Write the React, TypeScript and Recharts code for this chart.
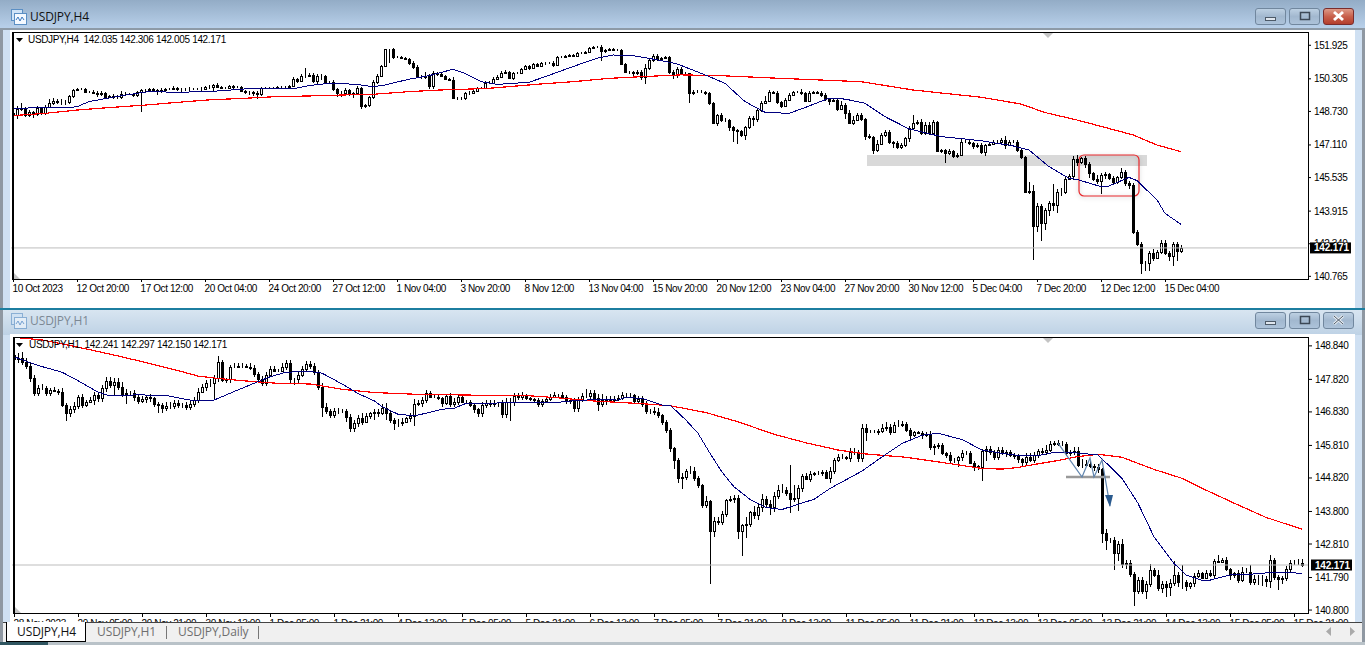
import React from "react";
import { ComposedChart, Bar, Line, XAxis, YAxis, ReferenceLine, ReferenceArea } from "recharts";

const CHART_FONT = "'Liberation Sans', Arial, sans-serif";
const TITLE_FONT = "'Open Sans', 'Noto Sans', sans-serif";

// ---------- H4 ----------
const h4FirstOpen = 148.7;
const h4Closes = [
  148.59,148.87,148.95,148.59,148.75,148.64,148.91,148.70,148.96,149.19,149.27,149.24,149.20,149.20,149.51,149.80,149.83,149.83,149.72,149.72,
  149.64,149.59,149.64,149.48,149.51,149.48,149.48,149.59,149.61,149.59,149.56,149.72,149.80,149.80,149.83,149.80,149.75,149.80,149.83,149.83,
  149.91,149.85,149.83,149.85,149.86,149.85,149.83,149.86,149.93,149.96,150.02,149.96,149.91,149.88,149.99,149.96,149.96,149.77,149.72,149.72,
  149.67,149.61,149.88,149.88,149.88,149.88,149.93,149.93,149.96,150.01,150.32,150.25,150.48,150.48,150.52,150.23,150.49,150.48,150.20,150.20,
  149.85,149.64,149.64,149.80,149.60,149.64,149.88,149.04,149.07,149.45,150.20,150.48,150.97,151.76,151.76,151.41,151.41,151.33,151.30,151.12,
  150.89,150.41,150.44,150.48,150.01,150.60,150.57,150.48,150.32,150.28,149.40,149.40,149.43,149.64,149.67,149.77,149.88,149.88,150.12,150.12,
  150.32,150.44,150.64,150.65,150.36,150.60,150.64,150.80,150.96,150.88,151.04,150.98,151.09,151.12,151.12,151.01,151.38,151.38,151.44,151.49,
  151.46,151.57,151.60,151.65,151.83,151.86,151.86,151.70,151.73,151.76,151.73,151.73,151.06,150.65,150.68,150.60,150.68,150.44,150.85,151.25,
  151.44,151.28,151.36,151.41,150.68,150.52,150.80,150.64,150.61,149.64,149.72,149.72,149.72,149.64,149.16,148.22,148.59,148.35,148.35,148.03,
  147.87,147.84,147.63,148.03,148.43,148.38,148.83,149.16,149.29,149.72,149.67,149.24,149.04,149.32,149.56,149.69,149.69,149.64,149.29,149.67,
  149.69,149.64,149.56,149.35,149.29,149.32,148.87,149.08,148.71,148.22,148.35,148.59,148.40,147.58,147.51,146.90,147.19,147.63,147.79,147.30,
  147.22,147.03,147.14,147.46,147.95,148.22,148.27,147.74,148.11,147.74,148.27,146.87,146.90,146.74,146.87,146.63,146.66,147.30,147.30,147.22,
  147.09,147.14,146.82,147.14,147.19,147.30,147.30,147.38,147.14,147.27,147.30,146.90,146.58,144.89,144.92,143.25,144.21,143.36,144.00,144.33,
  144.25,144.86,144.86,145.50,145.66,146.47,146.34,146.50,146.22,145.77,145.48,145.42,145.69,145.72,145.53,145.37,145.61,145.85,145.29,145.21,
  142.95,142.34,141.46,141.46,141.91,141.67,141.99,142.42,141.94,141.80,142.36,142.04,142.171,
];
const h4UpperWicks = [
  .05,.15,.2,.05,.1,.05,.1,.05,.1,.15,.15,.1,.1,.1,.05,.05,.05,.05,.05,.05,
  .1,.1,.1,.05,.05,.1,.1,.15,.1,.05,.05,.05,.05,.05,.05,.05,.05,.1,.05,.05,
  .1,.05,.05,.05,.1,.05,.05,.1,.05,.1,.05,.1,.05,.05,.05,.05,.05,.05,.05,.05,
  .05,.1,.05,.05,.05,.05,.05,.05,.05,.05,.1,.05,.1,.37,.1,.1,.1,.1,.05,.05,
  .1,.05,.1,.1,.05,.05,.1,.05,.05,.05,.1,.1,.05,.02,.02,.05,.05,.05,.05,.05,
  .1,.1,.1,.2,.1,.1,.05,.1,.05,.05,.15,.05,.05,.05,.1,.1,.05,.05,.1,.1,
  .1,.1,.1,.1,.05,.05,.05,.05,.05,.05,.05,.05,.05,.05,.05,.1,.05,.05,.05,.05,
  .05,.05,.05,.05,.05,.05,.05,.1,.05,.05,.05,.05,.05,.05,.05,.05,.1,.1,.2,.05,
  .1,.1,.05,.05,.05,.1,.1,.1,.05,.02,.1,.1,.1,.05,.05,.05,.05,.1,.1,.05,
  .05,.05,.05,.05,.1,.1,.05,.1,.2,.1,.05,.1,.05,.1,.1,.05,.05,.15,.05,.1,
  .05,.05,.1,.1,.05,.1,.05,.2,.1,.1,.2,.1,.1,.05,.1,.05,.2,.1,.1,.1,
  .05,.1,.1,.05,.1,.37,.1,.15,.15,.15,.1,.05,.05,.05,.1,.05,.1,.15,.1,.1,
  .05,.1,.1,.05,.05,.1,.1,.1,.2,.1,.1,.1,.05,.05,.45,.3,.15,.1,.1,.1,
  .95,.15,.2,.1,.1,.15,.2,.05,.1,.1,.05,.2,.1,.1,.05,.1,.05,.2,.1,.1,
  .1,.1,.1,.1,.1,.2,.1,.15,.15,.1,.1,.1,.135,
];
const h4LowerWicks = [
  .35,.2,.1,.1,.1,.2,.1,.1,.1,.05,.1,.1,.15,.15,.1,.1,.05,.05,.05,.05,
  .05,.15,.1,.05,.05,.1,.1,.1,.05,.05,.1,.1,1.0,.1,.05,.1,.2,.1,.05,.05,
  .05,.1,.2,.1,.1,.05,.05,.15,.05,.1,.2,.05,.05,.05,.05,.1,.05,.05,.1,.15,
  .15,.25,.1,.05,.05,.05,.05,.05,.05,.05,.05,.1,.05,.1,.05,.1,.15,.2,.1,.1,
  .1,.2,.2,.1,.1,.2,.1,.18,.1,.1,.1,.1,.05,.05,.65,.1,.05,.05,.05,.1,
  .1,.05,.1,.1,.15,.15,.1,.05,.05,.05,.05,.1,.1,.1,.1,.05,.05,.05,.05,.05,
  .05,.05,.05,.05,.05,.1,.05,.05,.05,.1,.05,.05,.05,.1,.05,.1,.05,.05,.05,.05,
  .05,.05,.05,.05,.05,.05,.05,.5,.1,.05,.05,.05,.05,.05,.1,.2,.1,.15,.37,.1,
  .1,.1,.05,.05,.1,.2,.15,.05,.1,.45,.1,.05,.05,.1,.1,.05,.15,.1,.1,.2,
  .58,.66,.1,.25,.1,.3,.15,.1,.05,.05,.05,.1,.1,.05,.05,.05,.05,.1,.05,.05,
  .05,.05,.1,.1,.2,.05,.1,.05,.3,.05,.1,.05,.1,.2,.1,.2,.1,.05,.1,.1,
  .2,.1,.1,.1,.15,.1,.1,.1,.1,.1,.05,.05,.1,.45,.1,.1,.1,.05,.05,.1,
  .15,.1,.1,.2,.05,.05,.1,.05,.2,.05,.05,.1,.1,.05,.1,1.66,.3,.85,.3,.3,
  .3,.4,.2,.1,.05,.2,.2,.1,.2,.2,.1,.15,.65,.2,.1,.1,.1,.1,.15,.2,
  .1,.1,.55,.4,.4,.15,.05,.1,.1,.25,.5,.5,.1,
];
const h4BlueBars = [0,8,12,16,19,25,31,34,41,49,58,63,70,74,79,82,87,90,93,99,104,110,113,117,121,129,133,140,146,150,155,159,166,173,178,183,188,194,198,204,208,213,218,224,232,242,250,254,259,264,266,272,274,279,281,286,288,292];
const h4BlueValues = [148.91,148.95,148.93,148.99,149.24,149.45,149.64,149.72,149.69,149.72,149.85,149.85,149.85,150.01,150.12,150.12,150.04,149.96,150.04,150.32,150.49,150.80,150.6,150.2,150.07,150.17,150.44,150.93,151.33,151.49,151.46,151.33,151.06,150.53,150.12,149.24,148.72,148.67,148.95,149.4,149.36,149.16,148.51,147.92,147.55,147.35,147.1,146.9,146.1,145.53,145.48,145.13,145.16,145.58,145.42,144.49,143.84,143.31];
const h4RedBars = [0,8,16,24,33,41,49,58,66,74,83,90,99,107,115,119,124,132,140,149,157,167,177,192,212,225,242,252,258,266,280,286,292];
const h4RedValues = [148.56,148.67,148.83,148.95,149.07,149.2,149.32,149.4,149.48,149.51,149.56,149.59,149.72,149.8,149.85,149.88,149.96,150.09,150.2,150.36,150.44,150.53,150.49,150.36,150.2,149.8,149.45,149.12,148.71,148.35,147.63,147.14,146.82];
const h4PriceTicks = [151.925,150.305,148.73,147.11,145.535,143.915,142.34,140.765,142.171];
const h4TimeLabels = ["10 Oct 2023","12 Oct 20:00","17 Oct 12:00","20 Oct 04:00","24 Oct 20:00","27 Oct 12:00","1 Nov 04:00","3 Nov 20:00","8 Nov 12:00","13 Nov 04:00","15 Nov 20:00","20 Nov 12:00","23 Nov 04:00","27 Nov 20:00","30 Nov 12:00","5 Dec 04:00","7 Dec 20:00","12 Dec 12:00","15 Dec 04:00"];

// ---------- H1 ----------
const h1FirstOpen = 148.55;
const h1Closes = [
  148.43,148.46,148.36,148.23,147.85,147.42,147.55,147.57,147.42,147.50,147.48,147.45,147.04,146.79,146.91,147.02,147.29,147.04,147.14,147.19,
  147.35,147.24,147.55,147.78,147.65,147.75,147.60,147.38,147.42,147.40,147.27,147.16,147.21,147.29,147.24,147.07,147.04,146.96,147.02,147.01,
  147.09,147.04,147.04,146.99,147.07,147.19,147.45,147.58,147.70,147.72,147.85,148.36,147.80,147.82,148.21,148.21,148.23,148.23,148.21,148.16,
  147.98,147.82,147.72,147.95,148.13,148.09,148.09,148.21,148.31,147.82,147.82,147.95,148.13,148.29,148.23,148.06,147.60,146.99,146.87,146.74,
  146.86,146.86,146.87,146.67,146.33,146.48,146.65,146.53,146.70,146.79,146.82,146.79,146.96,146.79,146.58,146.48,146.50,146.53,146.63,146.70,
  147.07,147.09,147.19,147.41,147.29,147.29,147.24,147.09,147.32,147.07,147.14,147.27,147.14,147.14,147.04,146.91,146.79,147.04,147.09,147.07,
  147.09,147.09,146.76,147.14,147.12,147.31,147.29,147.34,147.24,147.21,147.19,147.07,147.17,147.22,147.29,147.34,147.34,147.29,147.17,147.19,
  146.94,147.19,147.31,147.32,147.41,147.24,147.07,147.19,147.21,147.19,147.21,147.24,147.34,147.36,147.34,147.17,147.21,147.07,146.87,146.87,
  146.84,146.73,146.53,146.28,145.72,145.38,144.83,144.86,145.04,145.04,144.83,144.60,144.01,144.11,143.21,143.52,143.49,143.72,144.14,144.17,
  144.20,143.21,143.38,143.43,143.77,143.69,143.94,144.18,144.04,143.94,144.28,144.45,144.45,144.37,144.18,144.20,144.50,144.88,144.80,144.94,
  144.96,144.98,145.00,144.83,145.04,145.37,145.45,145.45,145.42,145.62,145.62,145.42,146.35,146.23,146.23,146.23,146.25,146.35,146.36,146.23,
  146.43,146.43,146.46,146.28,146.12,146.21,146.20,146.12,146.16,145.77,145.79,145.82,145.57,145.52,145.37,145.37,145.45,145.57,145.59,145.28,
  145.17,145.16,145.64,145.70,145.62,145.47,145.67,145.57,145.62,145.52,145.49,145.39,145.30,145.47,145.37,145.52,145.64,145.62,145.67,145.85,
  145.89,145.85,145.85,145.59,145.62,145.65,145.21,145.21,145.26,145.18,145.14,145.08,143.13,142.93,142.93,142.55,142.81,142.19,142.22,141.90,
  141.39,141.71,141.39,141.59,142.02,141.87,141.48,141.58,141.51,141.63,141.87,141.66,141.66,141.53,141.61,141.84,141.92,141.78,141.92,141.87,
  142.29,142.27,142.32,142.04,141.87,141.92,141.71,141.97,141.97,141.66,141.76,141.76,141.74,141.69,142.32,141.81,141.74,141.79,142.04,142.22,
  142.22,142.24,142.171,
];
const h1UpperWicks = [
  .05,.15,.2,.1,.1,.1,.1,.1,.05,.05,.1,.05,.1,.05,.1,.1,.05,.1,.05,.1,
  .1,.1,.1,.1,.1,.1,.1,.15,.1,.05,.1,.1,.1,.05,.1,.05,.05,.05,.1,.1,
  .1,.1,.05,.1,.1,.1,.1,.1,.1,.1,.1,.17,.05,.05,.05,.1,.1,.1,.05,.1,
  .1,.05,.1,.1,.1,.1,.05,.1,.1,.1,.05,.1,.1,.1,.1,.1,.05,.1,.1,.05,
  .1,.1,.05,.05,.1,.1,.1,.15,.1,.05,.1,.1,.1,.15,.1,.05,.1,.1,.05,.1,
  .15,.1,.1,.1,.05,.05,.1,.05,.05,.1,.1,.1,.05,.05,.05,.05,.05,.1,.1,.1,
  .1,.05,.1,.1,.1,.1,.1,.1,.05,.05,.05,.05,.05,.1,.1,.1,.05,.1,.05,.05,
  .05,.1,.1,.2,.1,.1,.15,.2,.1,.1,.1,.1,.1,.05,.05,.05,.1,.1,.1,.05,
  .1,.1,.05,.05,.05,.05,.05,.1,.05,.15,.1,.05,.05,.16,.05,.1,.1,.1,.05,.1,
  .1,.1,.05,.2,.05,.2,.1,.15,.1,.1,.1,.15,.2,.1,.84,.4,.1,.05,.1,.1,
  .05,.05,.05,.05,.1,.05,.1,.1,.05,.1,.1,.05,.1,.1,.05,.05,.05,.1,.15,.1,
  .1,.15,.1,.05,.05,.05,.05,.05,.05,.1,.05,.05,.05,.05,.1,.05,.05,.1,.05,.05,
  .05,.05,.05,.1,.1,.05,.1,.1,.05,.05,.05,.05,.05,.1,.1,.1,.05,.1,.15,.1,
  .05,.1,.1,.05,.05,.1,.1,.2,.1,.1,.05,.1,.05,.15,.05,.1,.1,.15,.1,.1,
  .05,.1,.1,.1,.17,.05,.15,.1,.1,.1,.42,.1,.5,.05,.05,.1,.1,.05,.1,.1,
  .05,.2,.05,.1,.05,.05,.1,.15,.1,.2,.1,.1,.1,.1,.15,.05,.05,.05,.1,.1,
  .1,.1,.126,
];
const h1LowerWicks = [
  .15,.1,.1,.1,.1,.1,.1,.05,.1,.1,.05,.1,.05,.25,.1,.1,.1,.1,.05,.05,
  .15,.1,.1,.1,.1,.3,.1,.1,.3,.1,.1,.1,.05,.1,.1,.1,.24,.15,.1,.1,
  .1,.1,.1,.1,.1,.1,.1,.05,.1,.1,.53,.1,.05,.1,.1,.05,.05,.05,.05,.05,
  .1,.1,.1,.1,.05,.05,.05,.05,.1,.1,.17,.1,.05,.1,.1,.1,.1,.3,.1,.1,
  .1,.1,.05,.15,.1,.1,.1,.1,.05,.1,.2,.1,.05,.2,.1,.2,.1,.1,.05,.1,
  .3,.05,.1,.1,.05,.05,.05,.1,.05,.1,.1,.1,.05,.05,.05,.1,.1,.1,.1,.1,
  .1,.1,.1,.1,.58,.1,.1,.1,.05,.05,.05,.1,.1,.05,.05,.05,.05,.05,.1,.1,
  .1,.1,.05,.05,.1,.1,.2,.1,.15,.1,.1,.05,.05,.05,.05,.1,.1,.1,.1,.1,
  .1,.1,.1,.1,.1,.3,.15,.35,.1,.1,.1,.1,.1,.1,1.63,.2,.1,.1,.1,.05,
  .1,.25,.75,.38,.1,.13,.15,.15,.1,.25,.15,.1,.1,.1,.43,.1,.39,.1,.05,.1,
  .05,.05,.1,.05,.15,.1,.05,.05,.05,.1,.1,.1,.1,.27,.05,.05,.1,.05,.1,.1,
  .05,.05,.05,.05,.1,.05,.05,.1,.05,.1,.25,.1,.05,.1,.1,.1,.22,.1,.05,.05,
  .14,.1,.43,.3,.1,.1,.1,.05,.1,.05,.1,.1,.16,.1,.05,.1,.1,.1,.1,.05,
  .05,.05,.05,.1,.1,.1,.05,.1,.05,.05,.1,.1,.3,.3,.1,.53,.27,.1,.15,.1,
  .48,.1,.1,.25,.1,.05,.1,.15,.3,.27,.1,.15,.23,.14,.1,.1,.05,.05,.05,.05,
  .1,.05,.05,.05,.15,.1,.1,.05,.05,.1,.1,.2,.2,.2,.23,.1,.33,.15,.1,.1,
  .05,.05,.05,
];
const h1BlueBars = [0,4,7,12,16,21,24,31,38,44,50,56,61,64,68,74,77,82,86,90,92,96,100,103,107,110,113,118,123,129,135,140,146,151,153,157,162,164,168,171,174,177,180,184,188,192,196,200,204,212,217,222,227,231,237,242,247,252,256,260,264,271,277,281,285,290,293,297,299,304,309,314,318,322];
const h1BlueValues = [148.51,148.33,148.21,148.04,147.78,147.43,147.32,147.35,147.33,147.19,147.19,147.5,147.75,147.9,148.04,148.06,148.01,147.68,147.39,147.17,146.99,146.76,146.71,146.79,146.91,146.94,147.09,147.09,147.11,147.11,147.11,147.17,147.21,147.19,147.27,147.24,147.04,147.04,146.58,146.18,145.57,145.0,144.55,144.17,143.92,143.86,144.02,144.17,144.5,145.03,145.46,145.87,146.12,146.18,145.99,145.67,145.57,145.49,145.5,145.6,145.6,145.52,144.81,144.05,143.03,142.22,141.87,141.7,141.71,141.87,141.89,141.94,141.94,141.92];
const h1RedBars = [0,7,16,24,32,41,46,51,57,66,74,78,82,86,90,100,115,129,136,144,157,164,173,181,190,198,206,213,223,231,242,247,251,255,260,266,271,277,285,292,298,306,313,322];
const h1RedValues = [149.1,149.02,148.8,148.59,148.36,148.09,147.92,147.85,147.78,147.7,147.68,147.6,147.52,147.47,147.42,147.37,147.34,147.32,147.26,147.17,147.08,147.02,146.81,146.53,146.15,145.89,145.67,145.55,145.45,145.31,145.11,145.09,145.14,145.23,145.33,145.47,145.54,145.45,145.08,144.81,144.45,144.0,143.62,143.26];
const h1PriceTicks = [148.84,147.82,146.83,145.81,144.82,143.8,142.81,141.79,140.8,142.171];
const h1TimeLabels = ["28 Nov 2023","29 Nov 05:00","29 Nov 21:00","30 Nov 13:00","1 Dec 05:00","1 Dec 21:00","4 Dec 13:00","5 Dec 05:00","5 Dec 21:00","6 Dec 13:00","7 Dec 05:00","7 Dec 21:00","8 Dec 13:00","11 Dec 05:00","11 Dec 21:00","12 Dec 13:00","13 Dec 05:00","13 Dec 21:00","14 Dec 13:00","15 Dec 05:00","15 Dec 21:00"];
const h1SketchBars = [261,267,269,270,272,274];
const h1SketchValues = [145.88,144.85,145.43,144.85,145.37,143.97];

const LAST_PRICE = 142.171;
const SLOTS = 324;

function buildRows(firstOpen: number, closes: number[], ups: number[], downs: number[], blueBars: number[], blueValues: number[], redBars: number[], redValues: number[], sketchBars: number[] = [], sketchValues: number[] = []) {
  const rows: any[] = [];
  for (let i = 0; i < SLOTS; i++) {
    const row: any = { i };
    if (i < closes.length) {
      const o = i === 0 ? firstOpen : closes[i - 1];
      const c = closes[i];
      const h = Math.max(o, c) + (ups[i] ?? 0.05);
      const l = Math.min(o, c) - (downs[i] ?? 0.05);
      Object.assign(row, { o, c, h, l, range: [l, h] });
    }
    const b = blueBars.indexOf(i);
    if (b >= 0) row.blue = blueValues[b];
    const r = redBars.indexOf(i);
    if (r >= 0) row.red = redValues[r];
    const s = sketchBars.indexOf(i);
    if (s >= 0) row.sketch = sketchValues[s];
    rows.push(row);
  }
  return rows;
}

const h4Rows = buildRows(h4FirstOpen, h4Closes, h4UpperWicks, h4LowerWicks, h4BlueBars, h4BlueValues, h4RedBars, h4RedValues);
const h1Rows = buildRows(h1FirstOpen, h1Closes, h1UpperWicks, h1LowerWicks, h1BlueBars, h1BlueValues, h1RedBars, h1RedValues, h1SketchBars, h1SketchValues);

const Candle = (props: any) => {
  const { x, y, width, height, payload } = props;
  if (!payload || payload.c == null) return <g />;
  const cx = Math.round(x + width / 2) + 0.5;
  const ppu = height / (payload.h - payload.l);
  const py = (p: number) => y + (payload.h - p) * ppu;
  const top = Math.round(py(Math.max(payload.o, payload.c))) + 0.5;
  const bottom = Math.round(py(Math.min(payload.o, payload.c))) + 0.5;
  const bull = payload.c >= payload.o;
  return (
    <g shapeRendering="crispEdges">
      <line x1={cx} x2={cx} y1={y} y2={y + height} stroke="#000" strokeWidth={1} />
      <rect x={cx - 1} y={top} width={2} height={Math.max(bottom - top, 0)} fill={bull ? "#fff" : "#000"} stroke="#000" strokeWidth={1} />
    </g>
  );
};

const makePriceTick = (nudge: number) => (props: any) => {
  const { x, y, payload } = props;
  const v = payload.value as number;
  if (v === LAST_PRICE) {
    return (
      <g>
        <rect x={x + 3} y={y - 5.5} width={41} height={11} fill="#000" />
        <text x={x + 7} y={y + 3.5} fontFamily={CHART_FONT} fontSize={10} fontWeight={700} letterSpacing={-0.2} fill="#fff">{v.toFixed(3)}</text>
      </g>
    );
  }
  return (
    <g>
      <line x1={x + 1} x2={x + 4} y1={y + nudge} y2={y + nudge} stroke="#000" />
      <text x={x + 7} y={y + nudge + 3.5} fontFamily={CHART_FONT} fontSize={10} letterSpacing={-0.4} fill="#000">{v.toFixed(3)}</text>
    </g>
  );
};

const makeTimeTick = (labels: string[], slotsPerLabel: number) => (props: any) => {
  const { x, y, payload } = props;
  const label = labels[Math.round(payload.value / slotsPerLabel)];
  const px = Math.round(x) + 0.5;
  return (
    <g>
      <line x1={px} x2={px} y1={y} y2={y + 3} stroke="#000" />
      <text x={px - 1} y={y + 13} fontFamily={CHART_FONT} fontSize={10} letterSpacing={-0.4} fill="#000">{label}</text>
    </g>
  );
};

const ArrowEnd = (props: any) => {
  const { cx, cy, index, payload } = props;
  if (payload.i !== h1SketchBars[h1SketchBars.length - 1] || cx == null) return <g key={index} />;
  return <polygon key={index} points={`${cx},${cy + 1} ${cx - 5},${cy - 11} ${cx + 3},${cy - 11}`} fill="#2a5a8e" />;
};

const RoundBox = (props: any) => (
  <rect x={props.x} y={props.y} width={props.width} height={props.height} rx={5} ry={5} fill="none" stroke="#e8262a" strokeWidth={1.2} style={{ filter: "drop-shadow(0 1px 2px rgba(0,0,0,.25))" }} />
);

const tickEvery16 = (labels: string[]) => labels.map((_, k) => k * 16);

const WinButton = ({ left, top, kind, red }: { left: number; top: number; kind: string; red?: boolean }) => (
  <div style={{ position: "absolute", left, top, width: 31, height: 17, boxSizing: "border-box", border: `1px solid ${red ? "#7a2c2c" : "#71879e"}`, borderRadius: 3, background: red ? "linear-gradient(#dd9a88,#c8604c 50%,#b33e2c)" : "linear-gradient(#bdd0e2,#a2b8cf 50%,#adc3da)" }}>
    <svg width={29} height={15} style={{ display: "block" }}>
      {kind === "min" && <rect x={9.5} y={8.5} width={10} height={3} fill="#dfe6ee" stroke="#4d5a68" />}
      {kind === "max" && <rect x={10.5} y={3.5} width={9} height={7} fill="none" stroke="#3c4856" strokeWidth={1.5} />}
      {kind === "x" && <path d="M10 3 L19 11 M19 3 L10 11" stroke={red ? "#fff" : "#e8edf2"} strokeWidth={3} />}
      {kind === "x" && !red && <path d="M10 3 L19 11 M19 3 L10 11" stroke="#4d5a68" strokeWidth={1} />}
    </svg>
  </div>
);

const ChartIcon = ({ left, top, dim }: { left: number; top: number; dim?: boolean }) => (
  <svg style={{ position: "absolute", left, top, opacity: dim ? 0.6 : 1 }} width={16} height={16}>
    <rect x={0.5} y={0.5} width={11} height={11} fill="#cfe3f7" stroke="#5b8fc4" />
    <rect x={3.5} y={4.5} width={12} height={11} fill="#f4f9ff" stroke="#5b8fc4" />
    <path d="M5 11 L7 8 L9 12 L11 8 L13 11" fill="none" stroke="#3d7ac0" />
  </svg>
);

const Label = ({ left, top, text }: { left: number; top: number; text: string }) => (
  <div style={{ position: "absolute", left, top, fontFamily: CHART_FONT, fontSize: 10, letterSpacing: -0.34, lineHeight: "12px", color: "#000", whiteSpace: "pre" }}>{text}</div>
);

const Frame = ({ top, height, left }: { top: number; height: number; left: number }) => (
  <div style={{ position: "absolute", left, top, width: 1308 - left + 1, height, boxSizing: "border-box", borderTop: "1.5px solid #000", borderRight: "1px solid #000", borderBottom: "1px solid #000", borderLeft: "2px solid #000", pointerEvents: "none" }} />
);

const ChartMarks = ({ left, top, h }: { left: number; top: number; h: number }) => (
  <svg style={{ position: "absolute", left: 0, top: 0, pointerEvents: "none" }} width={1365} height={645}>
    <polygon points={`1043,${top + 1} 1053,${top + 1} 1048,${top + 6}`} fill="#c4c4c4" />
    <polygon points={`${left + 2},${top + h - 7} ${left + 2},${top + h - 1} ${left + 8},${top + h - 1}`} fill="#c4c4c4" />
    <polygon points={`16,${top + 6} 23,${top + 6} 19.5,${top + 10}`} fill="#000" />
  </svg>
);

export default function App() {
  return (
    <div style={{ position: "absolute", left: 0, top: 0, width: 1365, height: 645, overflow: "hidden", background: "#cfe0f2" }}>
      {/* outer window strips */}
      <div style={{ position: "absolute", left: 0, top: 0, width: 3, height: 645, background: "#8f98a2" }} />
      <div style={{ position: "absolute", left: 1362, top: 0, width: 3, height: 645, background: "#8f98a2" }} />
      {/* title bars */}
      <div style={{ position: "absolute", left: 0, top: 0, width: 1365, height: 28, background: "linear-gradient(#93acc6,#b8d0ea)" }} />
      <div style={{ position: "absolute", left: 0, top: 28, width: 1365, height: 1.5, background: "#8d9aa7" }} />
      <div style={{ position: "absolute", left: 0, top: 308, width: 1365, height: 2, background: "#1c7ea0" }} />
      <div style={{ position: "absolute", left: 3, top: 310, width: 1359, height: 25, background: "linear-gradient(#d8e5f1,#bed2e5)" }} />
      {/* client areas */}
      <div style={{ position: "absolute", left: 10, top: 30, width: 1345, height: 278, background: "#fff" }} />
      <div style={{ position: "absolute", left: 10, top: 334, width: 1345, height: 290, background: "#fff" }} />

      <ChartIcon left={11} top={9} />
      <div style={{ position: "absolute", left: 30, top: 9, fontFamily: TITLE_FONT, fontSize: 12, letterSpacing: -0.1, lineHeight: "16px", color: "#111" }}>USDJPY,H4</div>
      <WinButton left={1255} top={8} kind="min" />
      <WinButton left={1289} top={8} kind="max" />
      <WinButton left={1323} top={8} kind="x" red />

      <ChartIcon left={11} top={313} dim />
      <div style={{ position: "absolute", left: 30, top: 313, fontFamily: TITLE_FONT, fontSize: 12, letterSpacing: -0.1, lineHeight: "16px", color: "#7c8894" }}>USDJPY,H1</div>
      <WinButton left={1255} top={312} kind="min" />
      <WinButton left={1289} top={312} kind="max" />
      <WinButton left={1323} top={312} kind="x" />

      {/* H4 chart */}
      <div style={{ position: "absolute", left: 0, top: 0 }}>
        <ComposedChart width={1365} height={300} data={h4Rows} margin={{ top: 32, right: 8, bottom: 0, left: 11 }} barCategoryGap={0}>
          <XAxis dataKey="i" height={21} interval={0} ticks={tickEvery16(h4TimeLabels)} tick={makeTimeTick(h4TimeLabels, 16)} tickLine={false} axisLine={false} tickSize={0} tickMargin={0} />
          <YAxis orientation="right" width={50} domain={[140.67, 152.6]} allowDataOverflow ticks={h4PriceTicks} interval={0} tick={makePriceTick(-0.7)} tickLine={false} axisLine={false} tickSize={0} tickMargin={0} />
          <ReferenceArea x1={214} x2={283} y1={146.13} y2={146.66} fill="#d9d9d9" fillOpacity={1} stroke="none" ifOverflow="visible" />
          <ReferenceLine y={LAST_PRICE} stroke="#bdbdbd" strokeWidth={1} />
          <Bar dataKey="range" shape={<Candle />} isAnimationActive={false} />
          <Line dataKey="red" stroke="#ff0000" strokeWidth={1.2} shapeRendering="crispEdges" dot={false} connectNulls isAnimationActive={false} />
          <Line dataKey="blue" stroke="#00007f" strokeWidth={1} shapeRendering="crispEdges" dot={false} connectNulls isAnimationActive={false} />
          <ReferenceArea x1={267} x2={281} y1={144.68} y2={146.66} shape={<RoundBox />} ifOverflow="visible" />
        </ComposedChart>
      </div>
      <Frame top={32} height={248} left={12} />
      <ChartMarks left={12} top={32} h={248} />
      <Label left={28} top={34} text="USDJPY,H4  142.035 142.306 142.005 142.171" />

      {/* H1 chart */}
      <div style={{ position: "absolute", left: 0, top: 0 }}>
        <ComposedChart width={1365} height={640} data={h1Rows} margin={{ top: 337, right: 7, bottom: 0, left: 12 }} barCategoryGap={0}>
          <XAxis dataKey="i" height={26} interval={0} ticks={tickEvery16(h1TimeLabels)} tick={makeTimeTick(h1TimeLabels, 16)} tickLine={false} axisLine={false} tickSize={0} tickMargin={0} />
          <YAxis orientation="right" width={50} domain={[140.68, 149.11]} allowDataOverflow ticks={h1PriceTicks} interval={0} tick={makePriceTick(0)} tickLine={false} axisLine={false} tickSize={0} tickMargin={0} />
          <ReferenceLine y={LAST_PRICE} stroke="#bdbdbd" strokeWidth={1} />
          <Bar dataKey="range" shape={<Candle />} isAnimationActive={false} />
          <Line dataKey="red" stroke="#ff0000" strokeWidth={1.2} shapeRendering="crispEdges" dot={false} connectNulls isAnimationActive={false} />
          <Line dataKey="blue" stroke="#00007f" strokeWidth={1} shapeRendering="crispEdges" dot={false} connectNulls isAnimationActive={false} />
          <ReferenceLine segment={[{ x: 263, y: 144.85 }, { x: 274, y: 144.85 }]} stroke="#999" strokeWidth={2.5} />
          <Line dataKey="sketch" stroke="#5f84ad" strokeWidth={1.2} dot={<ArrowEnd />} connectNulls isAnimationActive={false} />
        </ComposedChart>
      </div>
      <Frame top={337} height={277} left={13} />
      <ChartMarks left={13} top={337} h={277} />
      <Label left={29} top={339} text="USDJPY,H1  142.241 142.297 142.150 142.171" />

      {/* tab bar */}
      <div style={{ position: "absolute", left: 3, top: 622, width: 1359, height: 20, background: "#f0f0f0", borderTop: "1px solid #444", boxSizing: "border-box" }} />
      <div style={{ position: "absolute", left: 6, top: 622, width: 80, height: 20, boxSizing: "border-box", background: "#fff", borderLeft: "1px solid #000", borderRight: "1.5px solid #000", borderBottom: "1.5px solid #000", fontFamily: TITLE_FONT, fontSize: 12, letterSpacing: -0.1, lineHeight: "20px", color: "#111", paddingLeft: 10 }}>USDJPY,H4</div>
      <div style={{ position: "absolute", left: 97, top: 622, fontFamily: TITLE_FONT, fontSize: 12, letterSpacing: -0.1, lineHeight: "20px", color: "#6e6e6e" }}>USDJPY,H1</div>
      <div style={{ position: "absolute", left: 166, top: 626, width: 1, height: 13, background: "#777" }} />
      <div style={{ position: "absolute", left: 178, top: 622, fontFamily: TITLE_FONT, fontSize: 12, letterSpacing: -0.1, lineHeight: "20px", color: "#6e6e6e" }}>USDJPY,Daily</div>
      <div style={{ position: "absolute", left: 258, top: 626, width: 1, height: 13, background: "#777" }} />
      <svg style={{ position: "absolute", left: 1325, top: 626 }} width={32} height={12}>
        <polygon points="6,1 6,10 1,5.5" fill="#aaa" />
        <polygon points="25,1 25,10 30,5.5" fill="#aaa" />
      </svg>
      <div style={{ position: "absolute", left: 0, top: 642, width: 1365, height: 3, background: "#b9c2c8" }} />
      <div style={{ position: "absolute", left: 0, top: 642, width: 48, height: 3, background: "#2f5560" }} />
    </div>
  );
}
